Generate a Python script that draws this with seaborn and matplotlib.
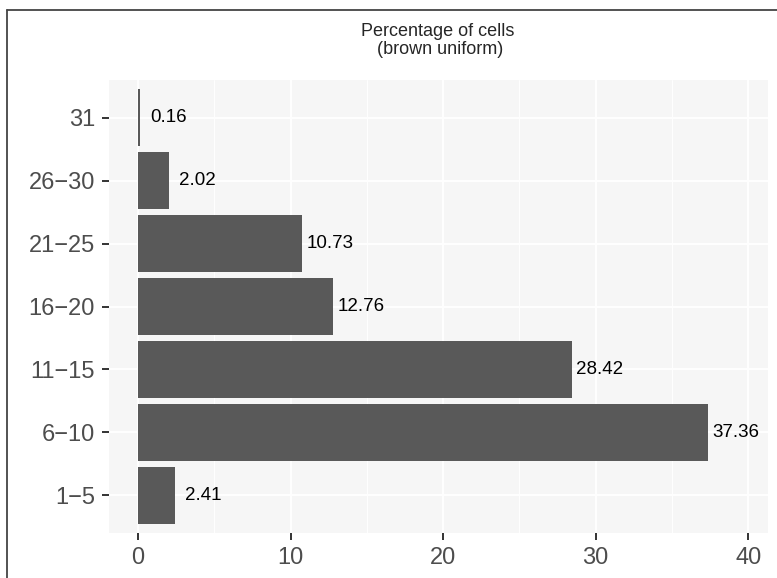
import matplotlib
matplotlib.use("Agg")
import matplotlib.pyplot as plt
import seaborn as sns
import pandas as pd
from matplotlib.ticker import MultipleLocator
from matplotlib.lines import Line2D

categories = ["1\u22125", "6\u221210", "11\u221215", "16\u221220", "21\u221225", "26\u221230", "31"]
values = [2.41, 37.36, 28.42, 12.76, 10.73, 2.02, 0.16]
labels = ["2.41", "37.36", "28.42", "12.76", "10.73", "2.02", "0.16"]
xticks = [0, 10, 20, 30, 40]

sns.set_theme(style="white")
plt.rcParams["font.family"] = ["Liberation Sans", "DejaVu Sans"]

df = pd.DataFrame({"cat": categories, "val": values})
order = categories[::-1]  # top to bottom

fig = plt.figure(figsize=(7.77, 5.78), dpi=100)
ax = fig.add_axes([109/777, 1-533/578, (768-109)/777, (533-80)/578])
ax.set_facecolor("#F6F6F6")

sns.barplot(data=df, x="val", y="cat", order=order, orient="h",
            color="#595959", saturation=1, width=0.9, ax=ax, zorder=3)

for p in ax.patches:
    p.set_edgecolor("none")

lab_map = dict(zip(categories, labels))
val_map = dict(zip(categories, values))
for i, c in enumerate(order):
    ax.text(val_map[c] + 1.85, i, lab_map[c], ha="center", va="center",
            fontsize=13.5, color="black", zorder=4)

ax.set_xlim(-1.9, 41.3)
ax.set_ylim(6.6, -0.6)
ax.set_xticks(xticks)
ax.xaxis.set_minor_locator(MultipleLocator(5))
ax.grid(which="major", color="white", linewidth=1.3, zorder=0)
ax.grid(which="minor", axis="x", color="white", linewidth=0.65, zorder=0)
ax.set_axisbelow(True)
for s in ax.spines.values():
    s.set_visible(False)
ax.set_xlabel("")
ax.set_ylabel("")
ax.tick_params(axis="both", which="major", length=5, width=1.4, color="#333333",
               labelsize=17, labelcolor="#4D4D4D", pad=5, left=True, bottom=True)
ax.tick_params(axis="x", which="minor", length=0)

fig.text(438/777, 1-32/578, "Percentage of cells", ha="center", va="center", fontsize=13)
fig.text(438/777, 1-50/578, " (brown uniform)", ha="center", va="center", fontsize=13)

fig.add_artist(Line2D([7/777, 7/777], [0, 1-10/578], transform=fig.transFigure, color="#444444", linewidth=1.3))
fig.add_artist(Line2D([7/777, 1], [1-10/578, 1-10/578], transform=fig.transFigure, color="#444444", linewidth=1.3))

fig.savefig("out.png", dpi=100)
